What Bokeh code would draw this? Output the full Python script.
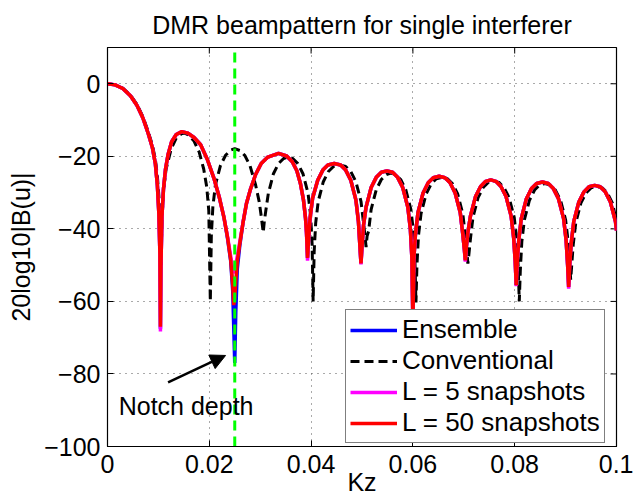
import math
from bokeh.plotting import figure
from bokeh.models import (Range1d, FixedTicker, Legend, LegendItem,
                          Arrow, NormalHead, Label)
from bokeh.embed import file_html
from bokeh.resources import INLINE

# ---------------- data ----------------
title_text = "DMR beampattern for single interferer"
x_label = "Kz"
y_label = "20log10|B(u)|"

x_ticks = [0, 0.02, 0.04, 0.06, 0.08, 0.1]
x_tick_labels = ["0", "0.02", "0.04", "0.06", "0.08", "0.1"]
y_ticks = [-100, -80, -60, -40, -20, 0]
y_tick_labels = ["\u2212100", "\u221280", "\u221260", "\u221240", "\u221220", "0"]
x_limits = (0, 0.1)
y_limits = (-100, 10)

# shared Kz samples for the three adaptive (DMR) patterns
kz_adaptive = [
    0.0, 0.0015, 0.0030, 0.0045, 0.0058, 0.0070, 0.0080, 0.0088, 0.0094, 0.0098, 0.0101, 0.0103, 0.0104,
    0.0105, 0.0107, 0.0110, 0.0114, 0.0119, 0.0126, 0.0135, 0.0146, 0.0158, 0.0170, 0.0183, 0.0196,
    0.0209, 0.0220, 0.0229, 0.0236, 0.0242, 0.0246, 0.0248, 0.0250, 0.0252, 0.0255,
    0.0260, 0.0266, 0.0273, 0.0281, 0.0291, 0.0302, 0.0315, 0.0336, 0.0352, 0.0363, 0.0372, 0.0379,
    0.0385, 0.0389, 0.0391, 0.0393,
    0.0395, 0.0398, 0.0403, 0.0413, 0.0423, 0.0433, 0.04455, 0.0458, 0.0468, 0.0478, 0.0488, 0.0493, 0.0496, 0.0498,
    0.0500, 0.0503, 0.0508, 0.0518, 0.0528, 0.0538, 0.0549, 0.0560, 0.0570, 0.0580, 0.0590, 0.0595, 0.0598, 0.0600,
    0.0602, 0.0605, 0.0610, 0.0620, 0.0630, 0.0640, 0.06515, 0.0663, 0.0673, 0.0683, 0.0693, 0.0698, 0.0701, 0.0703,
    0.0705, 0.0708, 0.0713, 0.0723, 0.0733, 0.0743, 0.0753, 0.0763, 0.0773, 0.0783, 0.0793, 0.0798, 0.0801, 0.0803,
    0.0805, 0.0808, 0.0813, 0.0823, 0.0833, 0.0843, 0.08545, 0.0866, 0.0876, 0.0886, 0.0896, 0.0901, 0.0904, 0.0906,
    0.0908, 0.0911, 0.0916, 0.0926, 0.0936, 0.0946, 0.0957, 0.0968, 0.0978, 0.0988, 0.0998, 0.1000,
]

# L = 50 snapshots (red)
db_l50 = [
    0.0, -0.3, -1.3, -3.3, -6.0, -9.6, -13.7, -17.5, -22.0, -28.0, -36.0, -47.0, -67.0,
    -50.0, -36.5, -29.0, -23.5, -19.5, -16.0, -14.0, -13.2, -13.6, -14.8, -16.8, -20.8,
    -26.0, -31.5, -37.0, -42.5, -48.5, -55.5, -61.0, -59.0, -54.5, -49.0,
    -44.0, -38.5, -33.0, -29.0, -25.0, -22.0, -20.2, -19.2, -19.9, -21.5, -24.0, -27.5,
    -32.0, -37.0, -41.0, -48.0,
    -43.0, -37.0, -31.5, -26.6, -23.8, -22.4, -22.0, -22.4, -23.8, -26.6, -32.0, -38.0, -45.0, -49.5,
    -45.0, -39.0, -34.0, -28.6, -25.8, -24.4, -24.0, -24.4, -25.8, -28.6, -34.0, -40.0, -48.0, -66.0,
    -48.0, -41.5, -35.5, -30.1, -27.3, -25.9, -25.5, -25.9, -27.3, -30.1, -35.5, -41.5, -45.5, -48.7,
    -45.0, -41.0, -36.5, -31.1, -28.3, -26.9, -26.5, -26.9, -28.3, -31.1, -36.5, -42.5, -49.0, -55.5,
    -49.0, -43.1, -37.1, -31.7, -28.9, -27.5, -27.1, -27.5, -28.9, -31.7, -37.1, -43.1, -50.0, -56.0,
    -50.0, -44.0, -38.0, -32.6, -29.8, -28.4, -28.0, -28.4, -29.8, -32.6, -38.0, -40.5,
]

# L = 5 snapshots (magenta)
db_l5 = [
    0.0, -0.3, -1.3, -3.3, -6.0, -9.6, -13.7, -17.5, -22.0, -28.0, -36.0, -47.5, -68.3,
    -50.5, -36.5, -29.0, -23.5, -19.5, -16.0, -14.0, -13.2, -13.6, -14.8, -16.8, -20.8,
    -26.0, -31.5, -37.0, -42.3, -47.5, -50.8, -52.2, -51.5, -50.0, -47.5,
    -43.5, -38.5, -33.0, -29.0, -25.0, -22.0, -20.2, -19.2, -19.9, -21.5, -24.0, -27.5,
    -32.0, -37.0, -41.5, -48.8,
    -43.0, -37.0, -31.5, -26.6, -23.8, -22.4, -22.0, -22.4, -23.8, -26.6, -32.0, -38.0, -45.0, -49.8,
    -45.0, -39.0, -34.0, -28.6, -25.8, -24.4, -24.0, -24.4, -25.8, -28.6, -34.0, -40.0, -48.0, -66.5,
    -48.0, -41.5, -35.5, -30.1, -27.3, -25.9, -25.5, -25.9, -27.3, -30.1, -35.5, -41.5, -45.5, -49.0,
    -45.0, -41.0, -36.5, -31.1, -28.3, -26.9, -26.5, -26.9, -28.3, -31.1, -36.5, -42.5, -49.0, -55.8,
    -49.0, -43.1, -37.1, -31.7, -28.9, -27.5, -27.1, -27.5, -28.9, -31.7, -37.1, -43.1, -50.0, -56.5,
    -50.0, -44.0, -38.0, -32.6, -29.8, -28.4, -28.0, -28.4, -29.8, -32.6, -38.0, -40.5,
]

# Ensemble (blue)
db_ensemble = [
    0.0, -0.3, -1.3, -3.3, -6.0, -9.6, -13.7, -17.5, -22.0, -28.0, -36.0, -47.0, -67.5,
    -50.0, -36.5, -29.0, -23.5, -19.5, -16.0, -14.0, -13.2, -13.6, -14.8, -16.8, -20.8,
    -26.0, -31.5, -37.0, -42.8, -48.8, -57.0, -67.0, -77.0, -63.0, -51.0,
    -44.5, -38.5, -33.0, -29.0, -25.0, -22.0, -20.2, -19.2, -19.9, -21.5, -24.0, -27.5,
    -32.0, -37.0, -41.0, -48.0,
    -43.0, -37.0, -31.5, -26.6, -23.8, -22.4, -22.0, -22.4, -23.8, -26.6, -32.0, -38.0, -45.0, -49.5,
    -45.0, -39.0, -34.0, -28.6, -25.8, -24.4, -24.0, -24.4, -25.8, -28.6, -34.0, -40.0, -48.0, -66.0,
    -48.0, -41.5, -35.5, -30.1, -27.3, -25.9, -25.5, -25.9, -27.3, -30.1, -35.5, -41.5, -45.5, -48.7,
    -45.0, -41.0, -36.5, -31.1, -28.3, -26.9, -26.5, -26.9, -28.3, -31.1, -36.5, -42.5, -49.0, -55.5,
    -49.0, -43.1, -37.1, -31.7, -28.9, -27.5, -27.1, -27.5, -28.9, -31.7, -37.1, -43.1, -50.0, -56.0,
    -50.0, -44.0, -38.0, -32.6, -29.8, -28.4, -28.0, -28.4, -29.8, -32.6, -38.0, -40.5,
]

# Conventional (black dashed)
kz_conventional = [
    0.0, 0.0015, 0.0030, 0.0045, 0.0058, 0.0070, 0.0080, 0.0088, 0.0094, 0.0098, 0.0101, 0.0103, 0.0105,
    0.0107, 0.0110, 0.0115, 0.0125, 0.0135, 0.0145, 0.0152, 0.0160, 0.0170, 0.0180, 0.0189, 0.0195, 0.0199, 0.0202,
    0.0204, 0.0207, 0.0212, 0.0222, 0.0232, 0.0242, 0.0250, 0.0260, 0.0270, 0.0280, 0.0291, 0.0298, 0.0302, 0.0306,
    0.0308, 0.0311, 0.0316, 0.0326, 0.0336, 0.0346, 0.0355, 0.0364, 0.0374, 0.0384, 0.0394, 0.0399, 0.0402, 0.0404,
    0.0406, 0.0409, 0.0414, 0.0424, 0.0434, 0.0444, 0.0456, 0.0468, 0.0478, 0.0488, 0.0498, 0.0503, 0.0506, 0.0508,
    0.0510, 0.0513, 0.0518, 0.0528, 0.0538, 0.0548, 0.0557, 0.0566, 0.0576, 0.0586, 0.0596, 0.0601, 0.0604, 0.0606,
    0.0608, 0.0611, 0.0616, 0.0626, 0.0636, 0.0646, 0.0657, 0.0668, 0.0678, 0.0688, 0.0698, 0.0703, 0.0706, 0.0708,
    0.0710, 0.0713, 0.0718, 0.0728, 0.0738, 0.0748, 0.07585, 0.0769, 0.0779, 0.0789, 0.0799, 0.0804, 0.0807, 0.0809,
    0.0811, 0.0814, 0.0819, 0.0829, 0.0839, 0.0849, 0.08595, 0.0870, 0.0880, 0.0890, 0.0900, 0.0905, 0.0908, 0.0910,
    0.0912, 0.0915, 0.0920, 0.0930, 0.0940, 0.0950, 0.0961, 0.0972, 0.0982, 0.0992, 0.1000,
]
db_conventional = [
    0.0, -0.3, -1.2, -3.1, -5.7, -9.2, -13.2, -16.8, -20.8, -25.5, -31.0, -38.0, -50.0,
    -37.0, -29.6, -23.6, -18.0, -15.0, -13.8, -13.6, -14.2, -15.8, -18.8, -23.5, -28.5, -35.0, -60.0,
    -41.9, -33.9, -27.9, -22.5, -19.7, -18.3, -17.9, -18.4, -19.8, -22.6, -27.9, -32.5, -36.5, -41.0,
    -38.0, -35.0, -30.2, -24.8, -22.0, -20.6, -20.2, -20.6, -22.0, -24.8, -30.2, -36.2, -44.2, -60.0,
    -46.4, -38.4, -32.4, -27.0, -24.2, -22.8, -22.4, -22.8, -24.2, -27.0, -32.4, -38.4, -42.0, -45.0,
    -42.0, -40.6, -34.6, -29.2, -26.4, -25.0, -24.6, -25.0, -26.4, -29.2, -34.6, -40.6, -48.6, -60.3,
    -49.8, -41.8, -35.8, -30.4, -27.6, -26.2, -25.8, -26.2, -27.6, -30.4, -35.8, -41.8, -46.0, -49.6,
    -47.0, -42.8, -36.8, -31.4, -28.6, -27.2, -26.8, -27.2, -28.6, -31.4, -36.8, -42.8, -50.8, -60.0,
    -51.5, -43.5, -37.5, -32.1, -29.3, -27.9, -27.5, -27.9, -29.3, -32.1, -37.5, -43.5, -50.0, -54.0,
    -50.0, -44.3, -38.3, -32.9, -30.1, -28.7, -28.3, -28.7, -30.1, -32.9, -38.0,
]

# interferer direction (green dashed vertical)
interferer_kz = [0.025, 0.025]
interferer_db = [-100, 10]

# annotation
note_text = "Notch depth"
note_pos = (0.0022, -88.7)
arrow_tail = (0.0119, -82.3)
arrow_head = (0.0232, -74.9)

series_labels = ["Ensemble", "Conventional", "L = 5 snapshots", "L = 50 snapshots"]

# ---------------- figure ----------------
FONT = "Liberation Sans"
FS = "25px"

p = figure(width=633, height=503, output_backend="svg", toolbar_location=None,
           x_range=Range1d(*x_limits), y_range=Range1d(*y_limits),
           min_border_left=107, min_border_right=17, min_border_top=47, min_border_bottom=57)
p.background_fill_color = "white"
p.border_fill_color = "white"
p.outline_line_color = "black"
p.outline_line_width = 1.2

p.title.text = title_text
p.title.align = "center"
p.title.text_font = FONT
p.title.text_font_size = FS
p.title.text_font_style = "normal"
p.title.text_color = "black"
p.title.standoff = 17

for ax, ticks, labels in ((p.xaxis[0], x_ticks, x_tick_labels), (p.yaxis[0], y_ticks, y_tick_labels)):
    ax.ticker = FixedTicker(ticks=ticks)
    ax.major_label_overrides = {t: l for t, l in zip(ticks, labels)}
    ax.major_label_text_font = FONT
    ax.major_label_text_font_size = FS
    ax.major_label_text_color = "black"
    ax.axis_label_text_font = FONT
    ax.axis_label_text_font_size = FS
    ax.axis_label_text_font_style = "normal"
    ax.axis_label_text_color = "black"
    ax.major_tick_in = 6
    ax.major_tick_out = 0
    ax.minor_tick_line_color = None
    ax.axis_line_color = "black"
    ax.major_tick_line_color = "black"

p.xaxis.axis_label = x_label
p.yaxis.axis_label = y_label
p.xaxis.major_label_standoff = 8
p.xaxis.axis_label_standoff = -8
p.yaxis.major_label_standoff = 7
p.yaxis.axis_label_standoff = 6

# box ticks on the top and right edges (screen-length rays from the tick values)
p.ray(x=x_ticks, y=[y_limits[1]] * len(x_ticks), length=6, length_units="screen",
      angle=-math.pi / 2, line_color="black", line_width=1)
p.ray(x=[x_limits[1]] * len(y_ticks), y=y_ticks, length=6, length_units="screen",
      angle=math.pi, line_color="black", line_width=1)

p.xgrid.ticker = FixedTicker(ticks=x_ticks)
p.ygrid.ticker = FixedTicker(ticks=y_ticks)
for g in (p.xgrid[0], p.ygrid[0]):
    g.grid_line_color = "#555555"
    g.grid_line_dash = "1 5"
    g.grid_line_width = 1

LW = 3.5
r_ens = p.line(kz_adaptive, db_ensemble, line_color="#0000ff", line_width=LW)
r_conv = p.line(kz_conventional, db_conventional, line_color="black", line_width=3, line_dash="9 5")
r_l5 = p.line(kz_adaptive, db_l5, line_color="#ff00ff", line_width=LW)
r_l50 = p.line(kz_adaptive, db_l50, line_color="#ff0000", line_width=LW)
p.line(interferer_kz, interferer_db, line_color="#00ff00", line_width=3, line_dash="10 6")

p.add_layout(Arrow(end=NormalHead(size=15, fill_color="black", line_color="black"),
                   x_start=arrow_tail[0], y_start=arrow_tail[1],
                   x_end=arrow_head[0], y_end=arrow_head[1],
                   line_color="black", line_width=2.5))
p.add_layout(Label(x=note_pos[0], y=note_pos[1], text=note_text, text_font=FONT,
                   text_font_size=FS, text_color="black", text_baseline="middle"))

legend = Legend(items=[LegendItem(label=series_labels[0], renderers=[r_ens]),
                       LegendItem(label=series_labels[1], renderers=[r_conv]),
                       LegendItem(label=series_labels[2], renderers=[r_l5]),
                       LegendItem(label=series_labels[3], renderers=[r_l50])],
                location=(238, 3), border_line_color="black", border_line_width=1.2,
                background_fill_color="white", background_fill_alpha=1.0,
                padding=4, spacing=0, margin=0, glyph_width=47, glyph_height=30,
                label_height=30, label_standoff=5, label_text_font=FONT,
                label_text_font_size="26px", label_text_color="black")
p.add_layout(legend)

open("out.html", "w").write(file_html(p, INLINE))
